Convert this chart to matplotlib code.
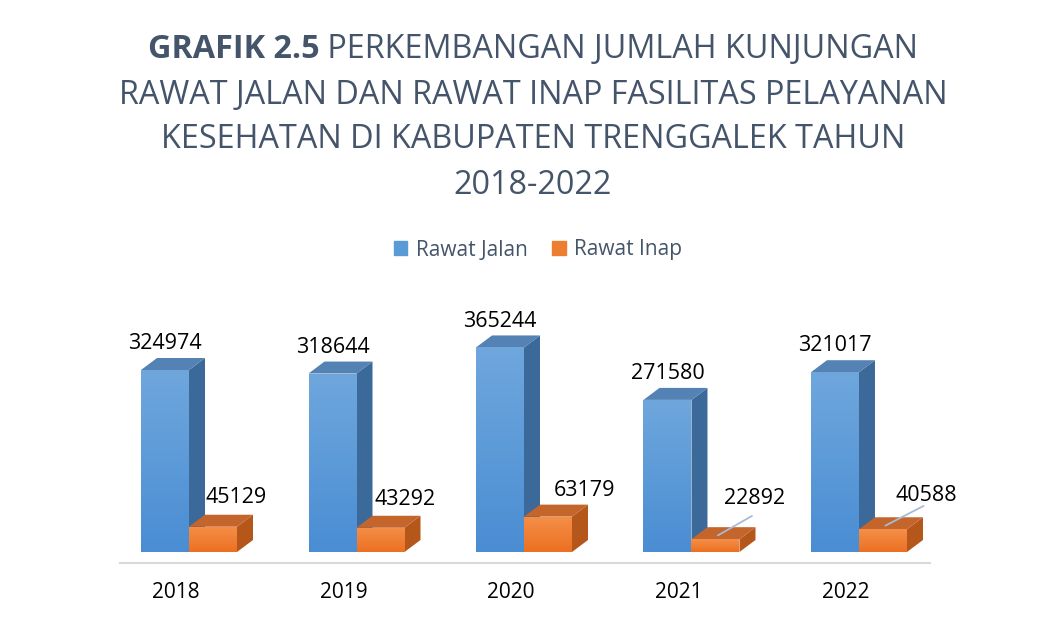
import matplotlib.pyplot as plt
import numpy as np
from matplotlib.patches import Polygon, Patch
from matplotlib.colors import LinearSegmentedColormap

years = ['2018', '2019', '2020', '2021', '2022']
rawat_jalan = [324974, 318644, 365244, 271580, 321017]
rawat_inap = [45129, 43292, 63179, 22892, 40588]

plt.rcParams['font.family'] = ['Open Sans', 'DejaVu Sans']

W, H = 1049, 622
fig = plt.figure(figsize=(W / 100, H / 100), dpi=100)
ax = fig.add_axes([120 / W, (H - 563) / H, 810 / W, 263 / H])

px_y = 182 / 324974          # pixels per unit on y
ax.set_xlim(-0.412, 4.424)
ax.set_ylim(-11 / px_y, -11 / px_y + 263 / px_y)

bw = 48 / 167.5
dx = 16 / 167.5
dy = 12 / px_y

styles = {
    'jalan': dict(top='#6fa7dd', bot='#4a8dd3', side='#3b6a9a', cap='#5482b4'),
    'inap': dict(top='#f58f48', bot='#eb7022', side='#b5561a', cap='#c4652b'),
}

x = np.arange(len(years))


def bars3d(xs, vals, st, z):
    cmap = LinearSegmentedColormap.from_list('g', [st['bot'], st['top']])
    rects = ax.bar(xs, vals, width=bw, align='edge', color=st['bot'], zorder=z)
    grad = np.linspace(0, 1, 256).reshape(-1, 1)
    for r in rects:
        x0, h = r.get_x(), r.get_height()
        x1 = x0 + r.get_width()
        im = ax.imshow(grad, extent=[x0, x1, 0, h], origin='lower', aspect='auto',
                       cmap=cmap, zorder=z + 0.1)
        im.set_clip_path(r)
        side = [(x1, 0), (x1 + dx, dy), (x1 + dx, h + dy), (x1, h)]
        top = [(x0, h), (x1, h), (x1 + dx, h + dy), (x0 + dx, h + dy)]
        ax.add_patch(Polygon(side, closed=True, facecolor=st['side'], edgecolor='none', zorder=z))
        ax.add_patch(Polygon(top, closed=True, facecolor=st['cap'], edgecolor='none', zorder=z))
    return rects


bars3d(x - bw, rawat_jalan, styles['jalan'], 2)
bars3d(x, rawat_inap, styles['inap'], 3)

ax.set_xlim(-0.412, 4.424)
ax.set_ylim(-11 / px_y, -11 / px_y + 263 / px_y)

# data labels
for i, v in enumerate(rawat_jalan):
    ax.annotate(str(v), (x[i] - bw / 2, v), xytext=(0, 19), textcoords='offset points',
                ha='center', va='center', fontsize=15.5, color='black', zorder=6)

inap_off = [(17, 21), (18, 20), (26, 19), (28, 29), (31, 24)]
for i, v in enumerate(rawat_inap):
    ox, oy = inap_off[i]
    ax.annotate(str(v), (x[i] + bw / 2, v), xytext=(ox, oy), textcoords='offset points',
                ha='center', va='center', fontsize=15.5, color='black', zorder=6)

# leader lines for the small ones
for i in [3, 4]:
    v = rawat_inap[i]
    ax.annotate('', (x[i] + bw / 2, v + dy * 0.2), xytext=(28 if i == 3 else 31, 16),
                textcoords='offset points',
                arrowprops=dict(arrowstyle='-', color='#a6bcd6', lw=1.3), zorder=7)

for s in ['top', 'left', 'right']:
    ax.spines[s].set_visible(False)
ax.spines['bottom'].set_color('#d9d9d9')
ax.spines['bottom'].set_linewidth(1.5)
ax.spines['bottom'].set_position(('data', -11 / px_y))
ax.set_yticks([])
ax.set_xticks(x - 0.078)
ax.set_xticklabels(years, fontsize=15, color='black')
ax.tick_params(axis='x', length=0, pad=14)

# title
tcol = '#44546a'
fs = 23.3
r = fig.canvas.get_renderer()
t1 = fig.text(0, 0, 'GRAFIK 2.5', fontsize=fs, fontweight='bold', color=tcol)
t2 = fig.text(0, 0, ' PERKEMBANGAN JUMLAH KUNJUNGAN', fontsize=fs, color=tcol)
w1 = t1.get_window_extent(r).width
w2 = t2.get_window_extent(r).width
cx = 533
y1 = 1 - 49 / H
left = cx - (w1 + w2) / 2
t1.set_position((left / W, y1))
t1.set_va('center')
t2.set_position(((left + w1) / W, y1))
t2.set_va('center')
lines = ['RAWAT JALAN DAN RAWAT INAP FASILITAS PELAYANAN',
         'KESEHATAN DI KABUPATEN TRENGGALEK TAHUN',
         '2018-2022']
for k, s in enumerate(lines):
    fig.text(cx / W, 1 - (95 + 45 * k) / H, s, fontsize=fs, color=tcol, ha='center', va='center')

handles = [Patch(color='#5b9bd5', label='Rawat Jalan'), Patch(color='#ed7d31', label='Rawat Inap')]
fig.legend(handles=handles, loc='center', bbox_to_anchor=(538 / W, 1 - 250 / H), ncol=2,
           frameon=False, fontsize=15, labelcolor='#44546a', handlelength=0.65,
           handleheight=0.65, handletextpad=0.4, columnspacing=1.2)

fig.savefig('out.png', dpi=100)
